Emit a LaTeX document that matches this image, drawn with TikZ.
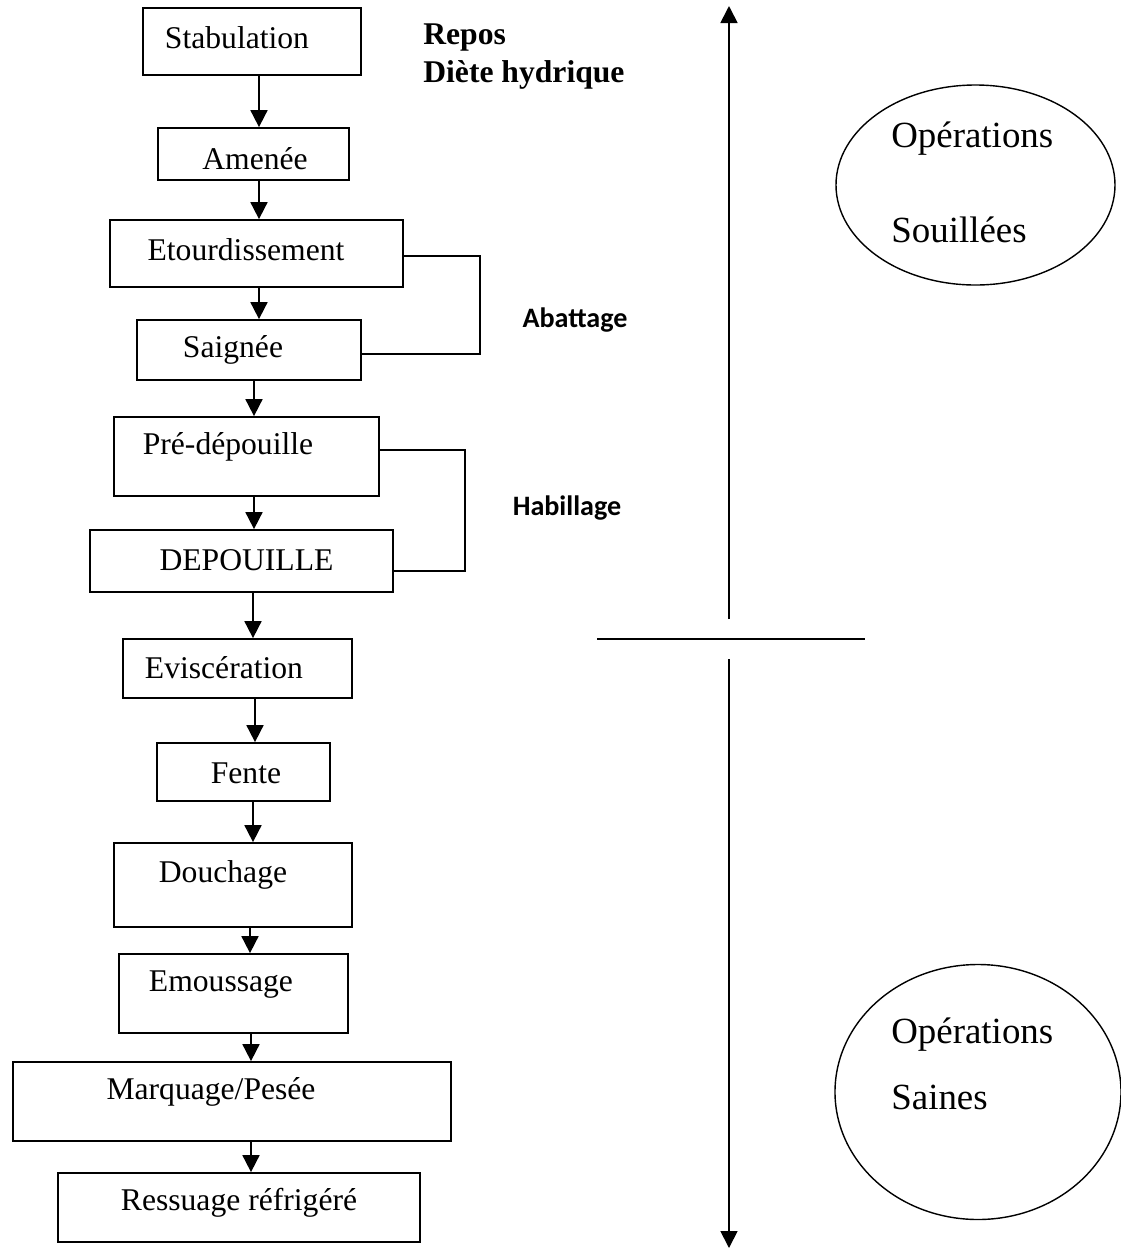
\documentclass[tikz,border=0pt]{standalone}
\usepackage{fontspec}
\setmainfont{Liberation Serif}
\newfontfamily\calibri{Carlito}
\usetikzlibrary{arrows.meta}
\usetikzlibrary{calc}
\usetikzlibrary{shapes.geometric}
\def\u{0.02cm}

\begin{document}
\begin{tikzpicture}[x=0.02cm,y=-0.02cm,
  box/.style={draw,line width=1pt,inner sep=0pt},
  txt/.style={inner sep=0pt,font=\fontsize{18}{21}\selectfont},
  bold/.style={inner sep=0pt,anchor=west,font=\fontsize{18}{21}\selectfont\bfseries},
  phase/.style={inner sep=0pt,font=\calibri\fontsize{16}{19}\selectfont\bfseries},
  oval/.style={draw,ellipse,line width=0.8pt,inner sep=0pt},
  big/.style={inner sep=0pt,anchor=west,font=\fontsize{21}{25}\selectfont},
  arr/.style={-{Triangle[length=3.4mm,width=3.4mm]},line width=1pt}]
\useasboundingbox (0,0) rectangle (1121,1249);
% draw boxes of the chain
\node[box,minimum width=218*\u,minimum height=67*\u] (stab) at (252,41.5) {};
\node[box,minimum width=191*\u,minimum height=52*\u] (amen) at (253.5,154) {};
\node[box,minimum width=293*\u,minimum height=67*\u] (etour) at (256.5,253.5) {};
\node[box,minimum width=224*\u,minimum height=60*\u] (saign) at (249,350) {};
\node[box,minimum width=265*\u,minimum height=79*\u] (pre) at (246.5,456.5) {};
\node[box,minimum width=303*\u,minimum height=62*\u] (depou) at (241.5,561) {};
\node[box,minimum width=229*\u,minimum height=59*\u] (evisc) at (237.5,668.5) {};
\node[box,minimum width=173*\u,minimum height=58*\u] (fente) at (243.5,772) {};
\node[box,minimum width=238*\u,minimum height=84*\u] (douch) at (233,885) {};
\node[box,minimum width=229*\u,minimum height=79*\u] (emous) at (233.5,993.5) {};
\node[box,minimum width=438*\u,minimum height=79*\u] (marq) at (232,1101.5) {};
\node[box,minimum width=362*\u,minimum height=69*\u] (ress) at (239,1207.5) {};
% box texts
\node[txt] (stabT) at (237,38) {Stabulation};
\node[txt] (amenT) at (255,159) {Amenée};
\node[txt] (etourT) at (246,250) {Etourdissement};
\node[txt] (saignT) at (233,350) {Saignée};
\node[txt] (preT) at (228,447) {Pré-dépouille};
\node[txt] (depouT) at (246.5,560) {DEPOUILLE};
\node[txt] (eviscT) at (224,668) {Eviscération};
\node[txt] (fenteT) at (246,773) {Fente};
\node[txt] (douchT) at (223,875) {Douchage};
\node[txt] (emousT) at (221,985) {Emoussage};
\node[txt] (marqT) at (211,1092) {Marquage/Pesée};
\node[txt] (ressT) at (239,1203) {Ressuage réfrigéré};
% draw arrows between boxes
\draw[arr] (stab.south -| 259,0) -- (amen.north -| 259,0);
\draw[arr] (amen.south -| 259,0) -- (etour.north -| 259,0);
\draw[arr] (etour.south -| 259,0) -- (saign.north -| 259,0);
\draw[arr] (saign.south -| 254,0) -- (pre.north -| 254,0);
\draw[arr] (pre.south -| 254,0) -- (depou.north -| 254,0);
\draw[arr] (depou.south -| 253,0) -- (evisc.north -| 253,0);
\draw[arr] (evisc.south -| 255,0) -- (fente.north -| 255,0);
\draw[arr] (fente.south -| 253,0) -- (douch.north -| 253,0);
\draw[arr] (douch.south -| 250,0) -- (emous.north -| 250,0);
\draw[arr] (emous.south -| 251,0) -- (marq.north -| 251,0);
\draw[arr] (marq.south -| 251,0) -- (ress.north -| 251,0);
% draw brackets
\draw[line width=1pt] (etour.east |- 0,256) -| (480,354) -- (saign.east |- 0,354);
\draw[line width=1pt] (pre.east |- 0,450) -| (465,571) -- (depou.east |- 0,571);
\node[phase] (abat) at (575,320) {Abattage};
\node[phase] (habil) at (567,508) {Habillage};
% side notes
\node[bold] (repos) at (423,38) {Repos};
\node[bold] (diete) at (423,75) {Diète hydrique};
% draw separation axis
\coordinate (top) at (729,6);
\coordinate (mid1) at (729,619);
\coordinate (mid2) at (729,659);
\coordinate (bot) at (729,1248);
\draw[arr] (mid1) -- (top);
\draw[arr] (mid2) -- (bot);
\draw[line width=1.5pt] (597,639) -- (865,639);
% draw ellipses
\node[oval,minimum width=279*\u,minimum height=200*\u] (sale) at (975.5,185) {};
\node[big] (saleA) at (891,139) {Opérations};
\node[big] (saleB) at (891,230) {Souillées};
\node[oval,minimum width=286*\u,minimum height=255*\u] (sain) at (978,1092) {};
\node[big] (sainA) at (891,1035) {Opérations};
\node[big] (sainB) at (891,1097) {Saines};
\end{tikzpicture}
\end{document}
